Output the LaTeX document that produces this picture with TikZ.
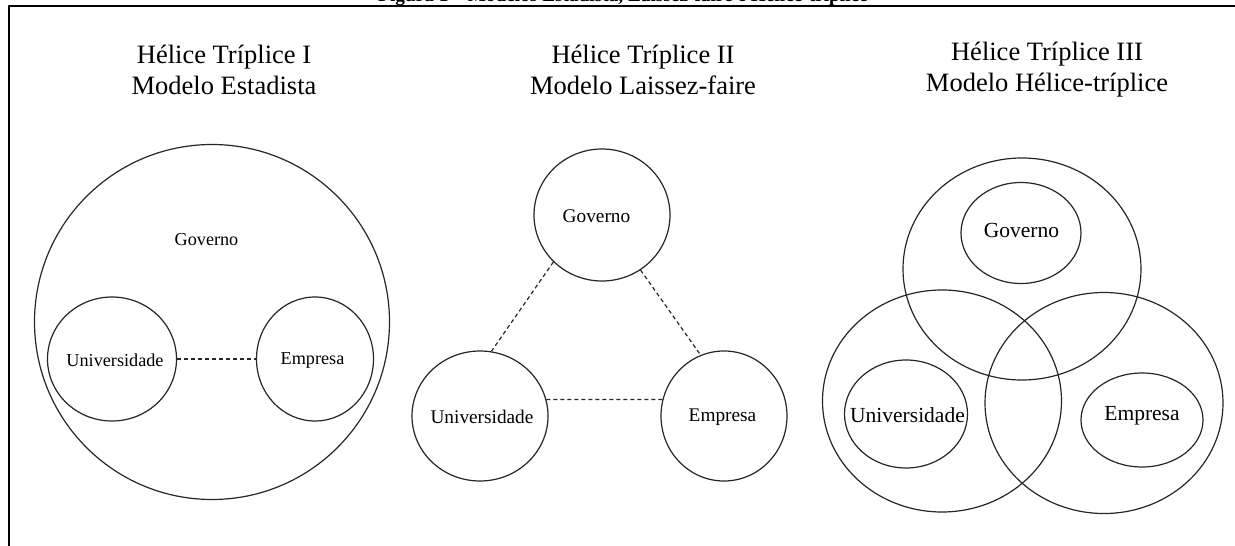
\documentclass[tikz,border=0pt]{standalone}
\usepackage{fontspec}
\setmainfont{Liberation Serif}
\usetikzlibrary{shapes.geometric}

\begin{document}
\begin{tikzpicture}[
            x = 1pt, y = -1pt, % one unit per pixel, y pointing down
            line join = round
        ]

        \tikzstyle{org}=[
            draw = black!85,
            line width = 1.2pt,
            ellipse,
            inner sep = 0pt
        ]
        \tikzstyle{link}=[
            draw = black!85,
            line width = 1.2pt,
            dash pattern = on 4pt off 3pt
        ]
        \tikzstyle{heading}=[
            align = center,
            inner sep = 0pt,
            font = \fontsize{26.5}{31}\selectfont
        ]
        \tikzstyle{tagA}=[inner sep = 0pt, font = \fontsize{18.2}{20}\selectfont]
        \tikzstyle{tagB}=[inner sep = 0pt, font = \fontsize{19.3}{21}\selectfont]
        \tikzstyle{tagC}=[inner sep = 0pt, font = \fontsize{21.5}{23}\selectfont]

        \useasboundingbox (0,0) rectangle (1235,546);

        % frame and (cut) caption
        \draw[line width = 1.8pt] (9,546) -- (9,6) -- (1235,6);
        \node[anchor = base, inner sep = 0pt, font = \bfseries\fontsize{19.3}{22}\selectfont] (caption) at (623,1.5)
            {Figura 1 – Modelos Estadista, Laissez-faire e Hélice-tríplice};

        % headings
        \node[heading] (heada) at (224,69.5) {Hélice Tríplice I\\Modelo Estadista};
        \node[heading] (headb) at (643,69.5) {Hélice Tríplice II\\Modelo Laissez-faire};
        \node[heading] (headc) at (1047,69.5) {Hélice Tríplice III\\Modelo Hélice-tríplice};

        % model I
        \node[org, minimum width = 355pt, minimum height = 355pt] (gova) at (212,322) {};
        \node[org, minimum width = 129pt, minimum height = 124pt] (univa) at (112,359) {};
        \node[org, minimum width = 117pt, minimum height = 124pt] (empa) at (315,359) {};
        \node[tagA] (govatxt) at (206.5,240) {Governo};
        \node[tagA] (univatxt) at (115,360) {Universidade};
        \node[tagA] (empatxt) at (312.5,360) {Empresa};

        \path[link] (univa) edge (empa);

        % model II
        \node[org, minimum width = 136pt, minimum height = 132pt] (govb) at (602,215) {};
        \node[org, minimum width = 136pt, minimum height = 130pt] (univb) at (480,416) {};
        \node[org, minimum width = 126pt, minimum height = 130pt] (empb) at (724,416) {};
        \node[tagB] (govbtxt) at (596.5,216) {Governo};
        \node[tagB] (univbtxt) at (482,417) {Universidade};
        \node[tagB] (empbtxt) at (722.5,417) {Empresa};

        \path[link] (govb.224) edge (univb.80);
        \path[link] (govb.305) edge (empb.111);
        \path[link] (univb.14) edge (empb.165);

        % model III
        \node[org, minimum width = 238pt, minimum height = 222pt] (govc) at (1022,269) {};
        \node[org, minimum width = 239pt, minimum height = 222pt] (univc) at (942,401) {};
        \node[org, minimum width = 238pt, minimum height = 221pt] (empc) at (1104,403) {};
        \node[org, minimum width = 120pt, minimum height = 101pt] (govcin) at (1021,233) {};
        \node[org, minimum width = 123pt, minimum height = 108pt] (univcin) at (906,414) {};
        \node[org, minimum width = 122pt, minimum height = 94pt] (empcin) at (1142,420) {};
        \node[tagC] (govctxt) at (1021.5,230) {Governo};
        \node[tagC] (univctxt) at (907.5,415) {Universidade};
        \node[tagC] (empctxt) at (1142,416) {Empresa};

\end{tikzpicture}
\end{document}
